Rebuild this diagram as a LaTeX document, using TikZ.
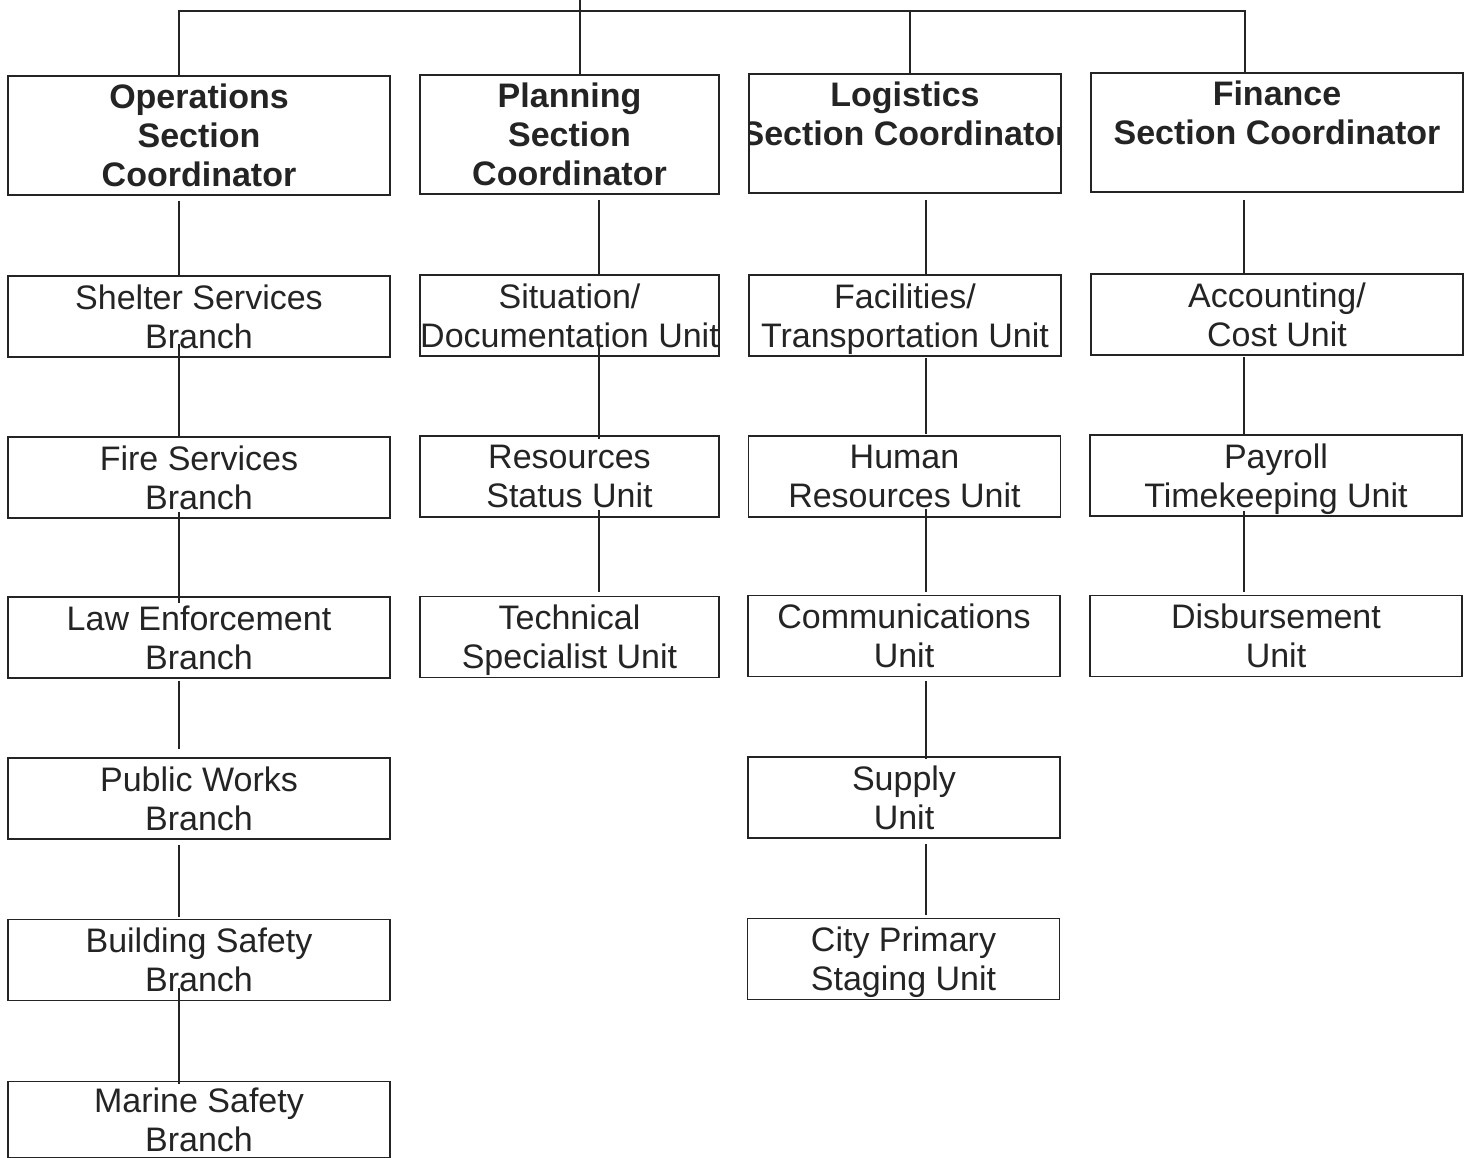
\documentclass[tikz,border=0pt]{standalone}
\usepackage{fontspec}
\setmainfont{Liberation Sans}
\usetikzlibrary{calc}
\definecolor{ink}{HTML}{242424}
\begin{document}
\begin{tikzpicture}[x=1pt,y=-1pt,
  unit/.style={draw=ink, line width=1.6pt, inner sep=0pt, align=center, text=ink,
    font=\fontsize{34}{39}\selectfont, minimum height=81pt},
  head/.style={unit, minimum height=119pt, font=\fontsize{34}{39}\selectfont\bfseries},
  colA/.style={minimum width=382pt},
  colB/.style={minimum width=299pt},
  colC/.style={minimum width=312pt},
  colD/.style={minimum width=372pt},
  link/.style={draw=ink, line width=1.6pt},
]
\useasboundingbox[fill=white] (0,0) rectangle (1468,1158);

% section coordinators
\node[head,colA] (ops)  at (199,135.5)   {Operations\\Section\\Coordinator};
\node[head,colB] (plan) at (569.5,134.5) {Planning\\Section\\Coordinator};
\node[head,colC,
  path picture={\node[draw=none, fill=none, align=center, text=ink, inner sep=0pt,
      font=\fontsize{34}{39}\selectfont\bfseries] (logtext)
      at (path picture bounding box.center) {Logistics\\Section Coordinator\\\mbox{}};}]
  (log) at (905,133.5) {};
\node[head,colD] (fin)  at (1277,132.5)  {Finance\\Section Coordinator\\\mbox{}};

% operations branches
\node[unit,colA] (shelter)  at (199,316.5) {Shelter Services\\Branch};
\node[unit,colA] (fire)     at (199,477.5) {Fire Services\\Branch};
\node[unit,colA] (law)      at (199,637.5) {Law Enforcement\\Branch};
\node[unit,colA] (public)   at (199,798.5) {Public Works\\Branch};
\node[unit,colA] (building) at (199,960)   {Building Safety\\Branch};
\node[unit,colA,minimum height=76pt] (marine) at (199,1119.5) {Marine Safety\\Branch};

% planning units
\node[unit,colB] (sit)  at (569.5,315.5) {Situation/\\Documentation Unit};
\node[unit,colB] (res)  at (569.5,476.5) {Resources\\Status Unit};
\node[unit,colB] (tech) at (569.5,637)   {Technical\\\smash{Specialist Unit}};

% logistics units
\node[unit,colC] (fac)    at (905,315.5)   {Facilities/\\\smash{Transportation Unit}};
\node[unit,colC] (hum)    at (904.5,476.5) {Human\\Resources Unit};
\node[unit,colC] (comm)   at (904,636)     {Communications\\Unit};
\node[unit,colC] (supply) at (904,797.5)   {Supply\\Unit};
\node[unit,colC] (city)   at (903.5,959)   {City Primary\\\smash{Staging Unit}};

% finance units
\node[unit,colD] (acc)  at (1277,314.5) {Accounting/\\Cost Unit};
\node[unit,colD] (pay)  at (1276,475.5) {Payroll\\\smash{Timekeeping Unit}};
\node[unit,colD] (disb) at (1276,636)   {Disbursement\\Unit};

% connector columns
\coordinate (root) at (580,0);
\coordinate (busL) at (179,11);
\coordinate (busR) at (1245,11);
\coordinate (xlog) at (910,11);
\coordinate (xa) at (179,0);
\coordinate (xb) at (599,0);
\coordinate (xc) at (926,0);
\coordinate (xd) at (1244,0);

% top bus
\draw[link] (busL |- ops.north) -- (busL) -- (busR) -- (busR |- fin.north);
\draw[link] (root) -- (root |- plan.north);
\draw[link] (xlog) -- (xlog |- log.north);

% operations chain
\draw[link] ($(ops.south -| xa)+(0,5)$) -- (shelter.north -| xa);
\draw[link] ($(shelter.south -| xa)+(0,-14)$) -- (fire.north -| xa);
\draw[link] ($(fire.south -| xa)+(0,-7)$) -- ($(law.north -| xa)+(0,7)$);
\draw[link] ($(law.south -| xa)+(0,2)$) -- ($(public.north -| xa)+(0,-8)$);
\draw[link] ($(public.south -| xa)+(0,5)$) -- ($(building.north -| xa)+(0,-2)$);
\draw[link] ($(building.south -| xa)+(0,-13)$) -- ($(marine.north -| xa)+(0,3)$);

% planning chain
\draw[link] ($(plan.south -| xb)+(0,5)$) -- (sit.north -| xb);
\draw[link] ($(sit.south -| xb)+(0,-11)$) -- ($(res.north -| xb)+(0,4)$);
\draw[link] ($(res.south -| xb)+(0,-8)$) -- ($(tech.north -| xb)+(0,-4)$);

% logistics chain
\draw[link] ($(log.south -| xc)+(0,6)$) -- (fac.north -| xc);
\draw[link] ($(fac.south -| xc)+(0,1)$) -- ($(hum.north -| xc)+(0,-1)$);
\draw[link] ($(hum.south -| xc)+(0,-9)$) -- ($(comm.north -| xc)+(0,-3)$);
\draw[link] ($(comm.south -| xc)+(0,4)$) -- ($(supply.north -| xc)+(0,3)$);
\draw[link] ($(supply.south -| xc)+(0,5)$) -- ($(city.north -| xc)+(0,-3)$);

% finance chain
\draw[link] ($(fin.south -| xd)+(0,7)$) -- (acc.north -| xd);
\draw[link] ($(acc.south -| xd)+(0,1)$) -- ($(pay.north -| xd)+(0,1)$);
\draw[link] ($(pay.south -| xd)+(0,-6)$) -- ($(disb.north -| xd)+(0,-3)$);
\end{tikzpicture}
\end{document}
